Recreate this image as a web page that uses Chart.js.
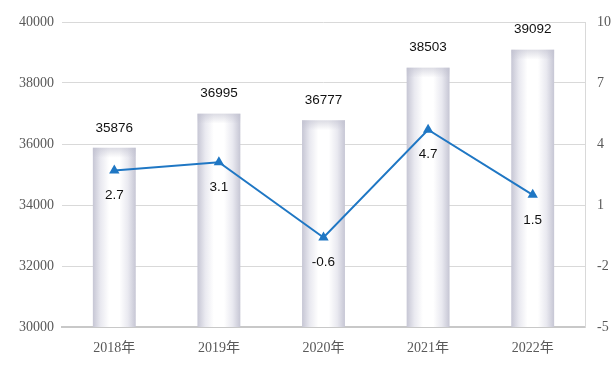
<!DOCTYPE html>
<html>
<head>
<meta charset="utf-8">
<script src="https://cdn.jsdelivr.net/npm/chart.js@4"></script>
<style>
  html, body { margin: 0; padding: 0; background: #fff; }
  #wrap { width: 615px; height: 378px; }
</style>
</head>
<body>
<div id="wrap"><canvas id="chart" width="615" height="378"></canvas></div>
<script>
// data
const years = ['2018年', '2019年', '2020年', '2021年', '2022年'];
const totals = [35876, 36995, 36777, 38503, 39092];
const growth = [2.7, 3.1, -0.6, 4.7, 1.5];

const tickFont = { family: "'Liberation Serif', 'Noto Sans CJK SC', serif", size: 14 };
const labelFont = "13.5px 'Liberation Sans', Arial, sans-serif";
const barPct = 0.41;

// horizontal gradient per bar (cylinder look)
function barFill(ctx) {
    const chart = ctx.chart;
    const xs = chart.scales.x;
    if (!chart.chartArea || !xs) return '#e0e0e8';
    const x = xs.getPixelForValue(ctx.dataIndex);
    const w = xs.width / years.length * barPct;
    const g = chart.ctx.createLinearGradient(x - w / 2, 0, x + w / 2, 0);
    g.addColorStop(0, '#c6c6d4');
    g.addColorStop(0.18, '#e9e9f0');
    g.addColorStop(0.38, '#ffffff');
    g.addColorStop(0.62, '#ffffff');
    g.addColorStop(0.82, '#e9e9f0');
    g.addColorStop(1, '#c6c6d4');
    return g;
}

// soft darker band at the top and bottom of each bar
const barShade = {
    id: 'barShade',
    afterDatasetDraw(chart, args) {
        if (args.index !== 0) return;
        const c = chart.ctx;
        c.save();
        args.meta.data.forEach(el => {
            const left = el.x - el.width / 2;
            const top = el.y;
            const bottom = el.base;
            let g = c.createLinearGradient(0, top, 0, top + 10);
            g.addColorStop(0, 'rgba(190,190,205,0.55)');
            g.addColorStop(1, 'rgba(190,190,205,0)');
            c.fillStyle = g;
            c.fillRect(left, top, el.width, 10);
            g = c.createLinearGradient(0, bottom - 12, 0, bottom);
            g.addColorStop(0, 'rgba(190,190,205,0)');
            g.addColorStop(1, 'rgba(190,190,205,0.45)');
            c.fillStyle = g;
            c.fillRect(left, bottom - 12, el.width, 12);
        });
        c.restore();
    }
};

// value labels: above bars, below line points
const valueLabels = {
    id: 'valueLabels',
    afterDatasetsDraw(chart) {
        const c = chart.ctx;
        c.save();
        c.font = labelFont;
        c.fillStyle = '#111';
        c.textAlign = 'center';
        c.textBaseline = 'middle';
        chart.getDatasetMeta(0).data.forEach((el, i) => {
            c.fillText(String(totals[i]), el.x, el.y - 20);
        });
        chart.getDatasetMeta(1).data.forEach((el, i) => {
            c.fillText(growth[i].toFixed(1), el.x, el.y + 25);
        });
        c.restore();
    }
};

new Chart(document.getElementById('chart'), {
    data: {
        labels: years,
        datasets: [
            {
                type: 'bar',
                data: totals,
                yAxisID: 'y',
                backgroundColor: barFill,
                borderWidth: 0,
                categoryPercentage: 1,
                barPercentage: barPct,
                order: 2
            },
            {
                type: 'line',
                data: growth,
                yAxisID: 'y1',
                borderColor: '#1f77c4',
                borderWidth: 2,
                backgroundColor: '#1f77c4',
                pointStyle: 'triangle',
                pointRadius: 6,
                pointBorderWidth: 0,
                tension: 0,
                order: 1
            }
        ]
    },
    options: {
        responsive: false,
        animation: false,
        layout: { padding: { top: 22, left: 0, right: 0, bottom: 0 } },
        plugins: { legend: { display: false }, tooltip: { enabled: false } },
        scales: {
            x: {
                grid: { display: false, drawTicks: false },
                border: { color: '#c8c8c8', width: 2 },
                ticks: { color: '#595959', font: tickFont, padding: 13 },
                afterFit(s) { s.height = 51; }
            },
            y: {
                position: 'left',
                min: 30000,
                max: 40000,
                ticks: { stepSize: 2000, color: '#595959', font: tickFont, padding: 8, callback: v => String(v) },
                grid: { color: '#d9d9d9', drawTicks: false },
                border: { display: false },
                afterFit(s) { s.width = 62; }
            },
            y1: {
                position: 'right',
                min: -5,
                max: 10,
                ticks: { stepSize: 3, color: '#595959', font: tickFont, padding: 12, callback: v => String(v) },
                grid: { display: false, drawTicks: false },
                border: { color: '#d9d9d9', width: 1 },
                afterFit(s) { s.width = 30; }
            }
        }
    },
    plugins: [barShade, valueLabels]
});
</script>
</body>
</html>
